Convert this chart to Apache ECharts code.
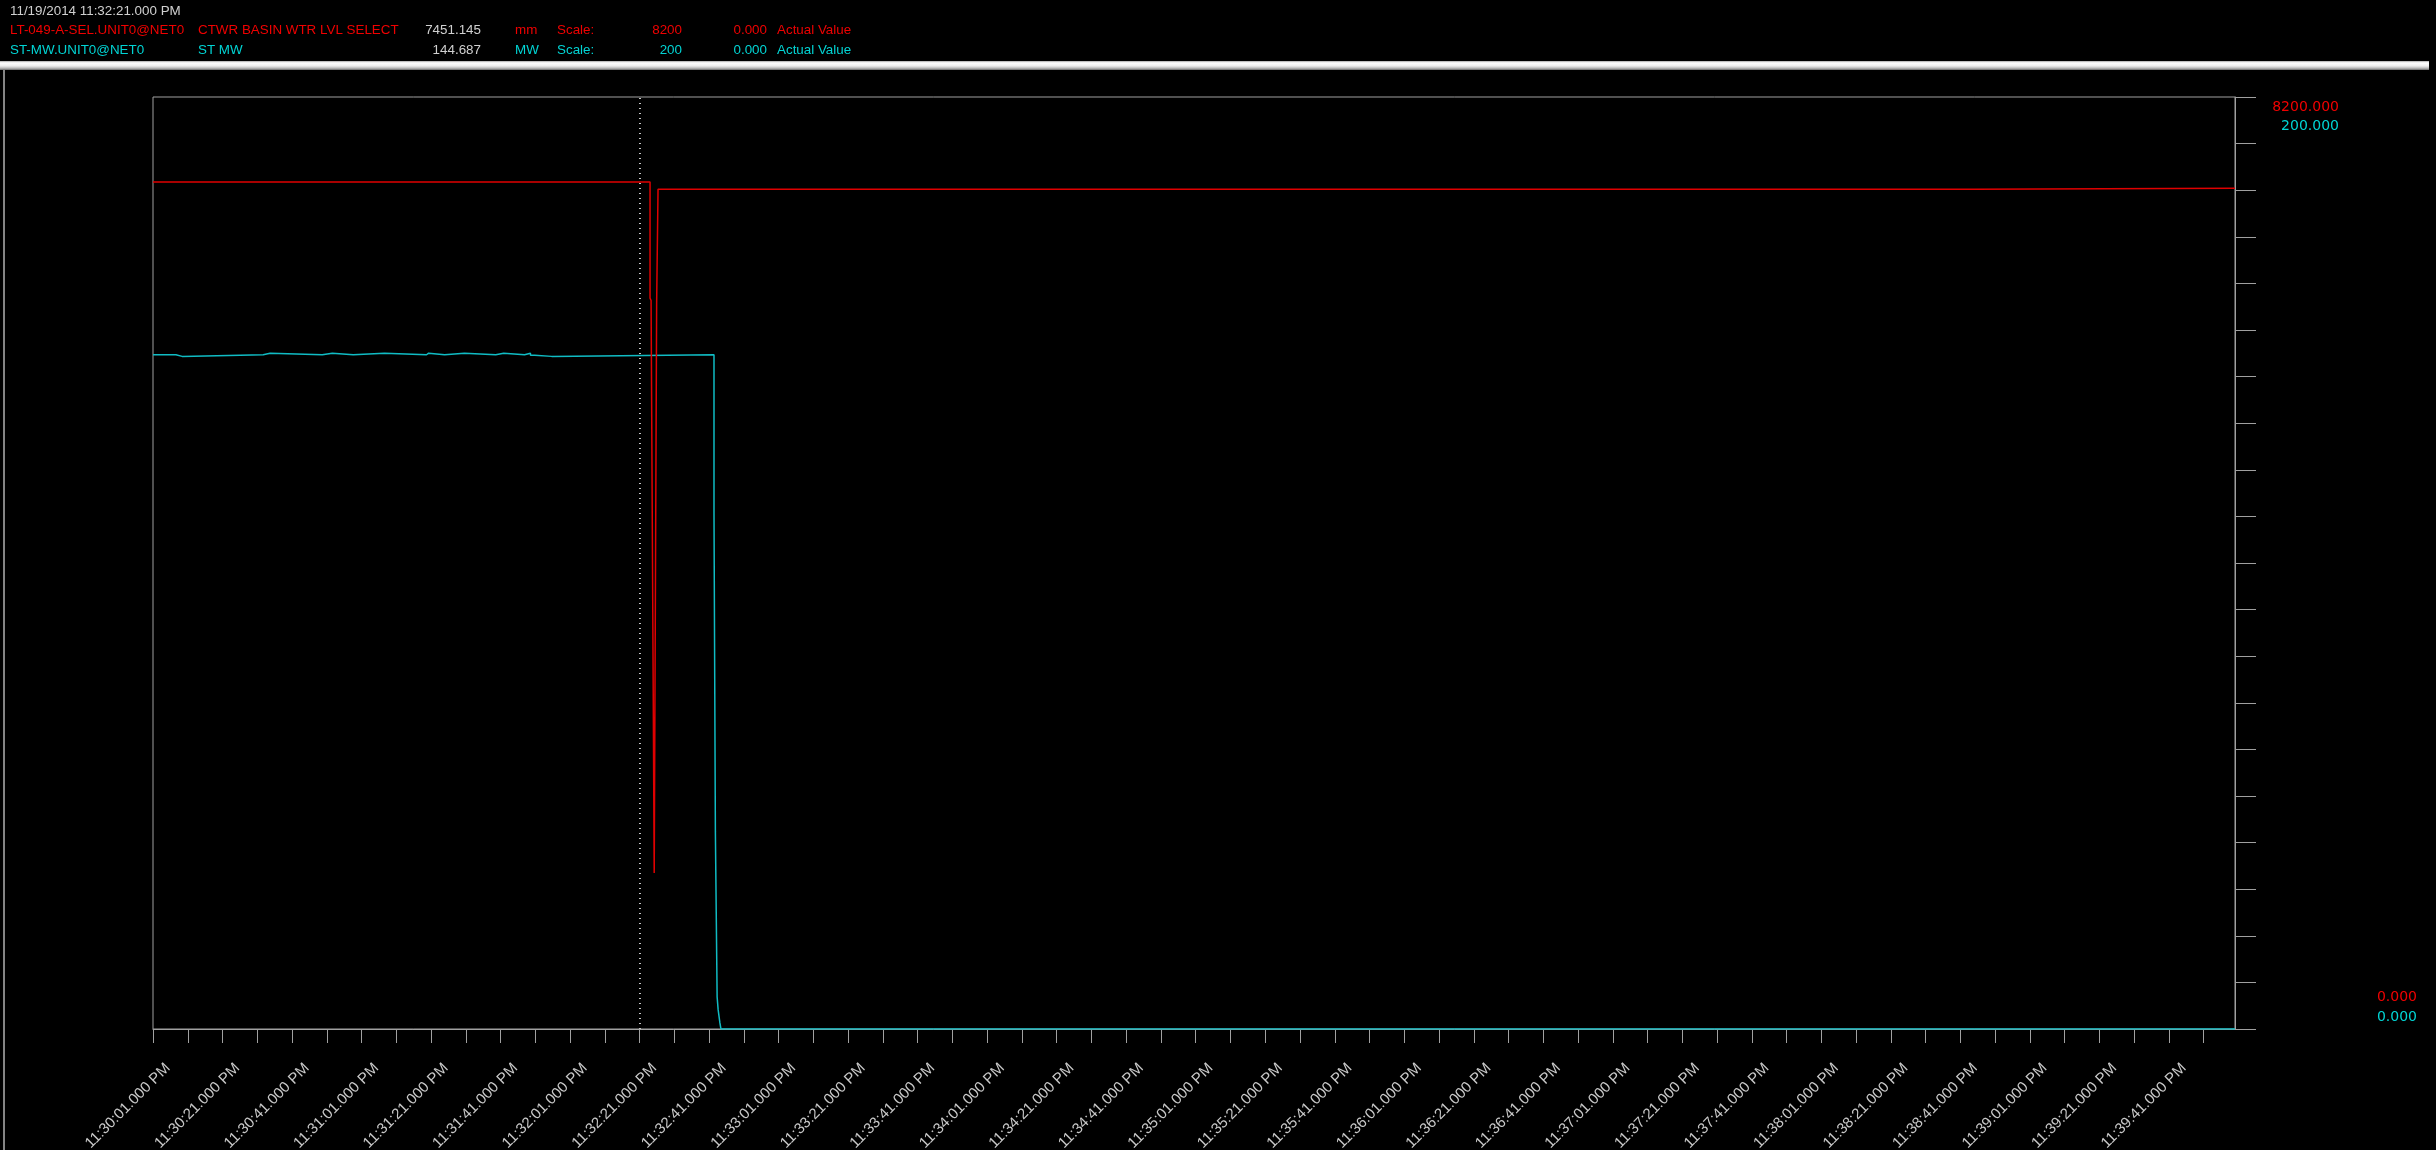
<!DOCTYPE html>
<html>
<head>
<meta charset="utf-8">
<style>
  html, body { margin: 0; padding: 0; background: #000; }
  #chart { width: 2436px; height: 1150px; }
</style>
<script src="https://cdn.jsdelivr.net/npm/echarts@6/dist/echarts.min.js"></script>
</head>
<body>
<div id="chart"></div>
<script>
// Trend window; x values are seconds from the window start
const windowStart = '11:30:01.000 PM';
const windowEnd = '11:40:00.000 PM';
const cursorDate = '11/19/2014';
const cursorTime = '11:32:21.000 PM';

// Bottom axis labels (every 20 s)
const timeLabels = [
  '11:30:01.000 PM', '11:30:21.000 PM', '11:30:41.000 PM',
  '11:31:01.000 PM', '11:31:21.000 PM', '11:31:41.000 PM',
  '11:32:01.000 PM', '11:32:21.000 PM', '11:32:41.000 PM',
  '11:33:01.000 PM', '11:33:21.000 PM', '11:33:41.000 PM',
  '11:34:01.000 PM', '11:34:21.000 PM', '11:34:41.000 PM',
  '11:35:01.000 PM', '11:35:21.000 PM', '11:35:41.000 PM',
  '11:36:01.000 PM', '11:36:21.000 PM', '11:36:41.000 PM',
  '11:37:01.000 PM', '11:37:21.000 PM', '11:37:41.000 PM',
  '11:38:01.000 PM', '11:38:21.000 PM', '11:38:41.000 PM',
  '11:39:01.000 PM', '11:39:21.000 PM', '11:39:41.000 PM'
];
const tickStepSec = 10;

// Tag rows of the legend
const tagNames = ['LT-049-A-SEL.UNIT0@NET0', 'ST-MW.UNIT0@NET0'];
const tagDescs = ['CTWR BASIN WTR LVL SELECT', 'ST MW'];
const cursorValues = [7451.145, 144.687];
const tagUnits = ['mm', 'MW'];
const scaleMax = [8200, 200];
const scaleMin = [0, 0];
const valueModes = ['Actual Value', 'Actual Value'];

// Cooling tower basin level (mm): [seconds, value]
const basinLevel = [
  [0, 7451.145], [143.0, 7451.145], [143.0, 6430], [143.3, 6410],
  [144.2, 1372], [144.9, 6390], [145.3, 6390], [145.3, 7388],
  [524.2, 7388], [524.2, 7397], [599, 7397]
];

// Steam turbine output (MW): [seconds, value], each value held until the next sample
const stMw = [
  [0, 144.687], [6.6, 144.34], [8.4, 144.687], [31.7, 145.03], [33.7, 144.687],
  [48.7, 145.03], [51.6, 144.687], [57.6, 145.03], [66.6, 144.687],
  [78.7, 145.03], [79.3, 144.687], [83.9, 145.03], [89.6, 144.687],
  [98.6, 145.03], [100.9, 144.687], [106.9, 145.03], [108.6, 144.6],
  [109.8, 144.34], [114.7, 144.687], [161.4, 110.7], [161.8, 42.3],
  [162.3, 6.9], [162.6, 4.1], [163.1, 1.3], [163.4, 0], [599, 0]
];

const RED = '#e00000';
const RED_TEXT = '#f00000';
const CYAN = '#10bcc4';
const CYAN_TEXT = '#00d4d4';
const GRAY = '#a0a0a0';
const LIGHT = '#d0d0d0';

function clockSeconds(t) {
  const [hms] = t.split(' ');
  const [h, m, s] = hms.split(':').map(Number);
  return h * 3600 + m * 60 + s;
}
const t0 = clockSeconds(windowStart);
const toSec = t => clockSeconds(t) - t0;

const axisMax = toSec(windowEnd);
const cursorSec = toSec(cursorTime);
const labelBySec = {};
const labelSecs = timeLabels.map(l => { const s = toSec(l); labelBySec[s] = l; return s; });
const tickSecs = [];
for (let s = 0; s < axisMax; s += tickStepSec) tickSecs.push(s);

// Legend header as plain text elements
const HF = '13.4px "Liberation Sans", Arial, sans-serif';
function txt(text, x, y, fill, align, font) {
  return { type: 'text', silent: true, z: 10,
    style: { text, x, y, fill, font: font || HF, textAlign: align || 'left', textVerticalAlign: 'middle' } };
}
const header = [txt(cursorDate + ' ' + cursorTime, 10, 11, LIGHT)];
const rowColors = [RED_TEXT, CYAN_TEXT];
[30, 50].forEach((y, i) => {
  const c = rowColors[i];
  header.push(
    txt(tagNames[i], 10, y, c),
    txt(tagDescs[i], 198, y, c),
    txt(cursorValues[i].toFixed(3), 481, y, LIGHT, 'right'),
    txt(tagUnits[i], 515, y, c),
    txt('Scale:', 557, y, c),
    txt(String(scaleMax[i]), 682, y, c, 'right'),
    txt(scaleMin[i].toFixed(3), 767, y, c, 'right'),
    txt(valueModes[i], 777, y, c)
  );
});

// Scale end labels beside the right axis
const SF = '14px "DejaVu Sans", sans-serif';
const scaleText = [
  txt(scaleMax[0].toFixed(3), 2339, 107, RED_TEXT, 'right', SF),
  txt(scaleMax[1].toFixed(3), 2339, 126, CYAN_TEXT, 'right', SF),
  txt(scaleMin[0].toFixed(3), 2417, 997, RED_TEXT, 'right', SF),
  txt(scaleMin[1].toFixed(3), 2417, 1017, CYAN_TEXT, 'right', SF)
];

const frame = [
  { type: 'rect', silent: true, z: 1,
    shape: { x: 0, y: 61, width: 2429, height: 9 },
    style: { fill: new echarts.graphic.LinearGradient(0, 0, 0, 1, [
      { offset: 0, color: '#a8a8a8' }, { offset: 0.2, color: '#ffffff' },
      { offset: 0.55, color: '#eeeeee' }, { offset: 0.8, color: '#b8b8b8' },
      { offset: 1, color: '#6c6c6c' }]) } },
  { type: 'line', silent: true, z: 1,
    shape: { x1: 4, y1: 70, x2: 4, y2: 1150 },
    style: { stroke: '#b0b0b0', lineWidth: 1.5 } }
];

const chart = echarts.init(document.getElementById('chart'), null, { renderer: 'canvas' });
chart.setOption({
  backgroundColor: '#000',
  animation: false,
  graphic: frame.concat(header, scaleText),
  grid: { left: 153, top: 97, width: 2082, height: 932, show: true,
          outerBoundsMode: 'none', containLabel: false,
          borderColor: GRAY, borderWidth: 1, backgroundColor: 'transparent' },
  xAxis: {
    type: 'value', min: 0, max: axisMax,
    axisLine: { show: true, onZero: false, lineStyle: { color: GRAY, width: 1 } },
    axisTick: { show: true, length: 14, customValues: tickSecs, lineStyle: { color: GRAY, width: 1 } },
    axisLabel: {
      customValues: labelSecs, rotate: 45, margin: 22,
      verticalAlign: 'top', lineHeight: 42,
      color: '#c8c8c8', fontFamily: '"Liberation Sans", Arial, sans-serif', fontSize: 15,
      formatter: v => labelBySec[v] || ''
    },
    splitLine: { show: false }
  },
  yAxis: [
    { type: 'value', position: 'right', min: scaleMin[0], max: scaleMax[0], interval: 410,
      axisLine: { show: true, onZero: false, lineStyle: { color: GRAY, width: 1 } },
      axisTick: { show: true, length: 21, lineStyle: { color: GRAY, width: 1 } },
      axisLabel: { show: false }, splitLine: { show: false } },
    { type: 'value', position: 'left', min: scaleMin[1], max: scaleMax[1], show: false,
      axisLine: { onZero: false }, splitLine: { show: false } }
  ],
  series: [
    { name: tagDescs[1], type: 'line', yAxisIndex: 1, data: stMw, step: 'end',
      symbol: 'none', silent: true, z: 2,
      lineStyle: { color: CYAN, width: 1.5 } },
    { name: tagDescs[0], type: 'line', yAxisIndex: 0, data: basinLevel,
      symbol: 'none', silent: true, z: 3,
      lineStyle: { color: RED, width: 1.5 },
      markLine: { silent: true, symbol: 'none', animation: false,
        label: { show: false },
        lineStyle: { color: '#c8c8c8', width: 2, type: [1, 4] },
        data: [{ xAxis: cursorSec }] } }
  ]
});
</script>
</body>
</html>
